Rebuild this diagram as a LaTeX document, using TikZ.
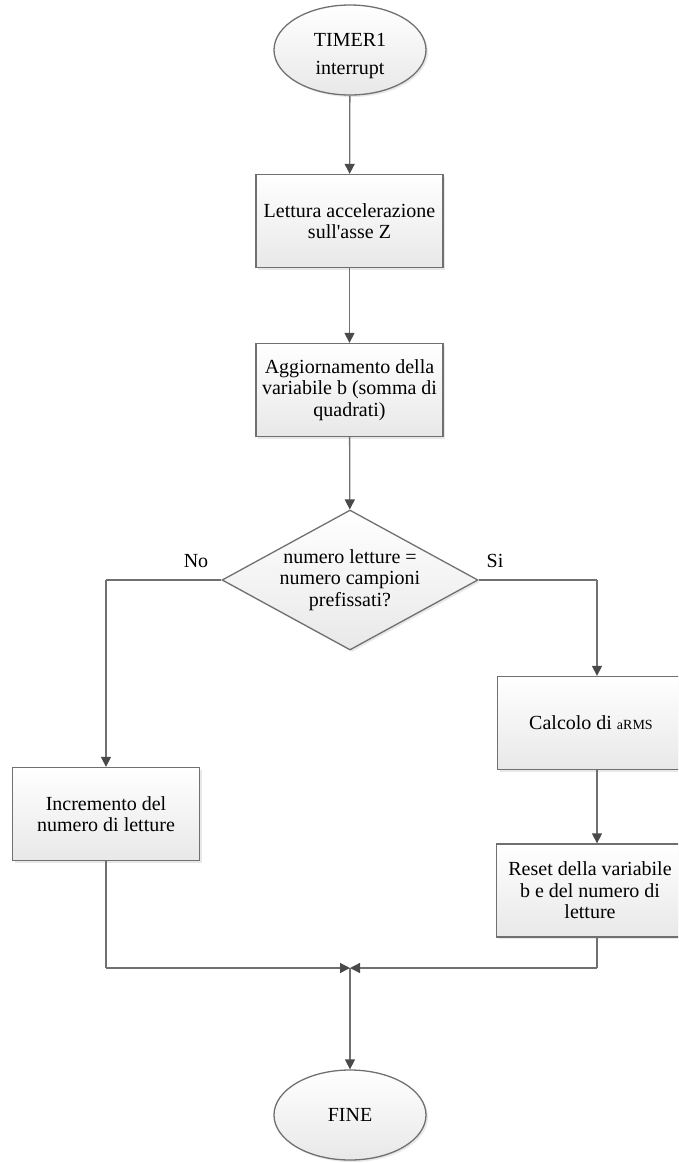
\documentclass[tikz,border=0pt]{standalone}
\usepackage{fontspec}
\setmainfont{Liberation Serif}
\usetikzlibrary{shapes.geometric,arrows.meta,shadows}
\definecolor{edge}{HTML}{707070}
\definecolor{tip}{HTML}{4A4A4A}
\begin{document}
\begin{tikzpicture}[x=1pt,y=-1pt,
  every node/.style={font=\fontsize{20}{21.5}\selectfont, text=black},
  shapebase/.style={draw=edge, line width=1.3pt, top color=white, bottom color=black!9,
    drop shadow={opacity=0.18, shadow xshift=2pt, shadow yshift=-2pt}},
  term/.style={shapebase, ellipse, minimum width=152pt, minimum height=90pt, inner sep=0pt, align=center},
  proc/.style={shapebase, rectangle, minimum width=187pt, minimum height=93pt, inner sep=0pt, align=center},
  decision/.style={shapebase, diamond, minimum width=256pt, minimum height=140pt, inner sep=0pt, aspect=1.83},
  flow/.style={draw=edge, line width=1.3pt, -{Triangle[length=10pt,width=10pt,color=tip]}},
  link/.style={draw=edge, line width=1.3pt},
  lbl/.style={font=\fontsize{20}{24}\selectfont}]
\useasboundingbox (0,0) rectangle (678,1163);
\begin{scope}
\clip (0,0) rectangle (678,1163);

\node[term] (start) at (350,50) {};
\node[align=center, font=\fontsize{20}{28}\selectfont] (starttext) at (350,56) {TIMER1\\interrupt};
\node[proc] (read) at (349.5,221) {Lettura accelerazione\\sull\textquotesingle asse Z};
\node[proc] (upd) at (349.5,390) {Aggiornamento della\\variabile b (somma di\\quadrati)};
\node[decision] (dec) at (350,580) {};
\node[align=center] (dectext) at (dec.center) {numero letture =\\numero campioni\\prefissati?};
\node[proc] (calc) at (591,723) {Calcolo di {\fontsize{14}{16}\selectfont aRMS}};
\node[proc] (inc) at (106,814) {Incremento del\\numero di letture};
\node[proc] (reset) at (590,890.5) {Reset della variabile\\b e del numero di\\letture};
\node[term] (fine) at (350,1115) {FINE};

\coordinate (noturn) at (106,580);
\coordinate (siturn) at (597,580);
\coordinate (incdown) at (106,968);
\coordinate (resetdown) at (597,968);
\coordinate (merge) at (350,968);

\node[lbl] (no) at (196,561) {No};
\node[lbl] (si) at (495,561) {Si};

\draw[flow] (start) -- (read);
\draw[flow] (read) -- (upd);
\draw[flow] (upd) -- (dec);
\draw[link] (dec.west) -- (noturn);
\draw[flow] (noturn) -- (inc.north);
\draw[link] (dec.east) -- (siturn);
\draw[flow] (siturn) -- (siturn |- calc.north);
\draw[flow] (siturn |- calc.south) -- (siturn |- reset.north);
\draw[link] (inc.south) -- (incdown);
\draw[flow] (incdown) -- (merge);
\draw[link] (siturn |- reset.south) -- (resetdown);
\draw[flow] (resetdown) -- (merge);
\draw[flow] (merge) -- (fine.north);
\end{scope}
\end{tikzpicture}
\end{document}
